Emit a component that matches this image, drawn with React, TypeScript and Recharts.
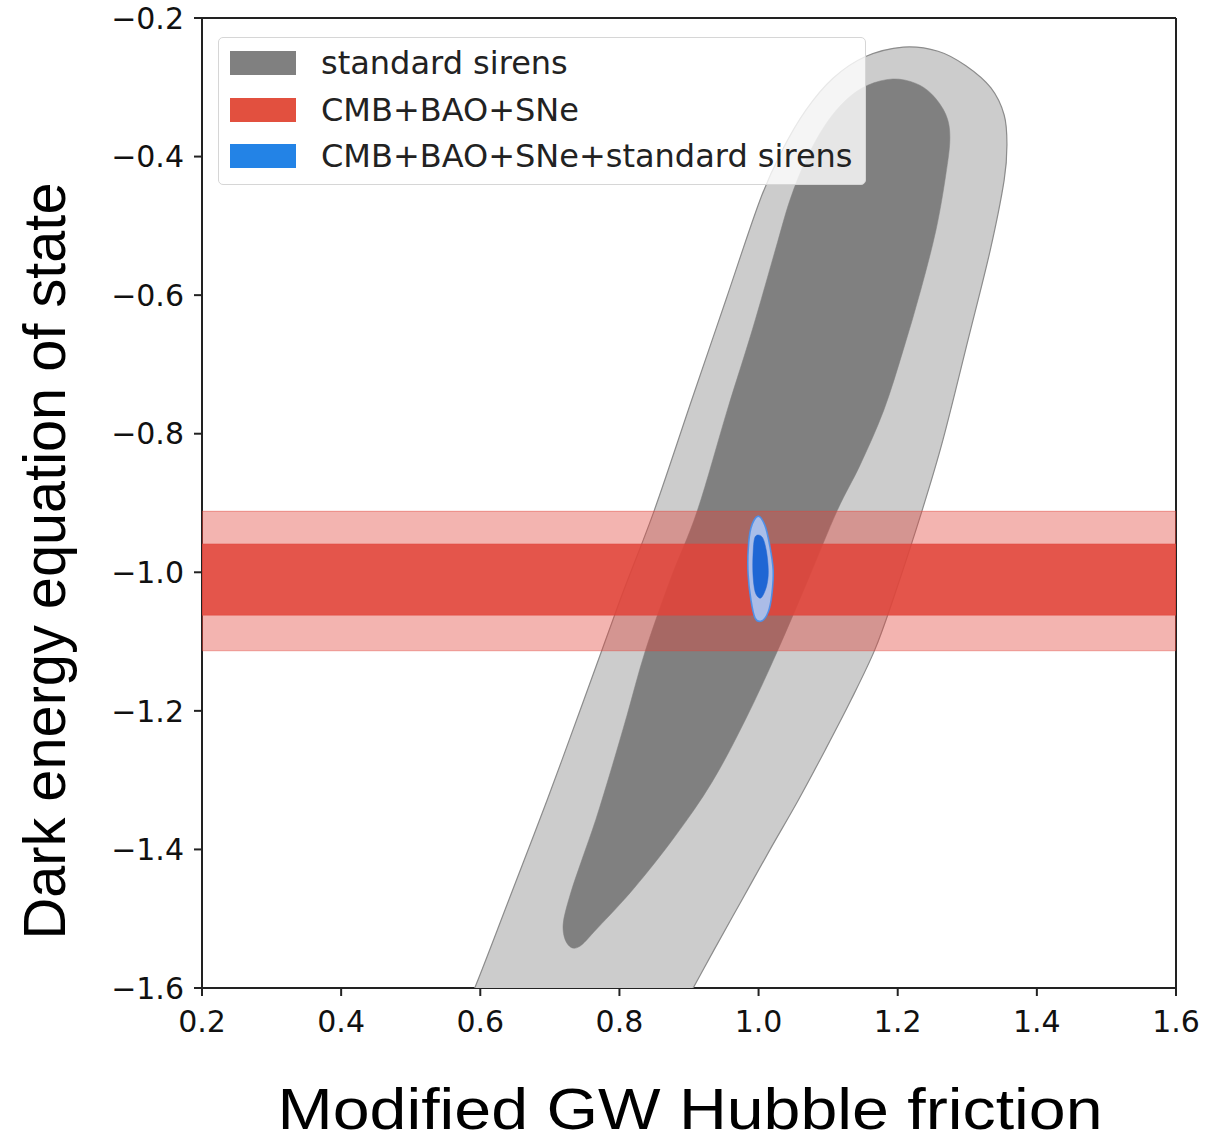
import { ScatterChart, Scatter, XAxis, YAxis, ReferenceLine } from 'recharts'

const xTicks = [0.2, 0.4, 0.6, 0.8, 1.0, 1.2, 1.4, 1.6]
const yTicks = [-1.6, -1.4, -1.2, -1.0, -0.8, -0.6, -0.4, -0.2]

// standard sirens, outer (95%) contour: [friction, w]
const sirensOuter: [number, number][] = [
  [0.564, -1.66], [0.592, -1.6], [0.641, -1.473], [0.696, -1.329], [0.749, -1.184],
  [0.801, -1.04], [0.85, -0.911], [0.904, -0.751], [0.953, -0.607], [1.002, -0.463],
  [1.034, -0.391], [1.068, -0.333], [1.107, -0.287], [1.153, -0.256], [1.208, -0.242],
  [1.258, -0.248], [1.298, -0.269], [1.334, -0.301], [1.353, -0.34], [1.357, -0.383],
  [1.353, -0.434], [1.333, -0.535], [1.301, -0.665], [1.265, -0.809], [1.235, -0.911],
  [1.193, -1.04], [1.167, -1.112], [1.133, -1.184], [1.096, -1.256], [1.057, -1.329],
  [1.016, -1.401], [0.976, -1.473], [0.936, -1.545], [0.906, -1.6], [0.873, -1.66],
]

// standard sirens, inner (68%) contour
const sirensInner: [number, number][] = [
  [1.193, -0.288], [1.225, -0.294], [1.249, -0.31], [1.269, -0.339], [1.275, -0.373],
  [1.269, -0.427], [1.255, -0.506], [1.233, -0.593], [1.208, -0.679], [1.18, -0.766],
  [1.146, -0.845], [1.113, -0.911], [1.071, -1.011], [1.027, -1.114], [0.981, -1.213],
  [0.933, -1.303], [0.88, -1.381], [0.821, -1.456], [0.769, -1.513], [0.741, -1.541],
  [0.725, -1.536], [0.719, -1.509], [0.729, -1.466], [0.746, -1.415], [0.766, -1.357],
  [0.788, -1.285], [0.811, -1.206], [0.837, -1.114], [0.873, -1.011], [0.912, -0.911],
  [0.955, -0.766], [0.991, -0.65], [1.024, -0.535], [1.045, -0.463], [1.068, -0.405],
  [1.096, -0.354], [1.126, -0.318], [1.157, -0.297],
]

// CMB+BAO+SNe bands (w is not constrained along friction)
const cmbOuter: [number, number][] = [[0.2, -1.113], [1.6, -1.113], [1.6, -0.912], [0.2, -0.912]]
const cmbInner: [number, number][] = [[0.2, -1.062], [1.6, -1.062], [1.6, -0.959], [0.2, -0.959]]

// CMB+BAO+SNe+standard sirens
const comboOuter: [number, number][] = [
  [0.999, -0.919], [1.009, -0.932], [1.016, -0.961], [1.021, -0.997], [1.019, -1.033],
  [1.014, -1.057], [1.005, -1.070], [0.995, -1.066], [0.989, -1.040], [0.985, -1.004],
  [0.985, -0.968], [0.989, -0.936],
]
const comboInner: [number, number][] = [
  [0.995, -0.949], [1.005, -0.949], [1.011, -0.968], [1.014, -0.997], [1.012, -1.018],
  [1.006, -1.034], [1.001, -1.037], [0.995, -1.028], [0.992, -1.004], [0.992, -0.975],
]

const legendItems = [
  { label: 'standard sirens', color: '#808080' },
  { label: 'CMB+BAO+SNe', color: '#e2503f' },
  { label: 'CMB+BAO+SNe+standard sirens', color: '#2383e6' },
]

const toPts = (arr: [number, number][]) => arr.map(([x, y]) => ({ x, y }))

// closed Catmull-Rom through the contour points
function smoothPath(pts: { x: number; y: number }[]) {
  const n = pts.length
  let d = `M${pts[0].x},${pts[0].y}`
  for (let i = 0; i < n; i++) {
    const p0 = pts[(i - 1 + n) % n]
    const p1 = pts[i]
    const p2 = pts[(i + 1) % n]
    const p3 = pts[(i + 2) % n]
    const c1x = p1.x + (p2.x - p0.x) / 6
    const c1y = p1.y + (p2.y - p0.y) / 6
    const c2x = p2.x - (p3.x - p1.x) / 6
    const c2y = p2.y - (p3.y - p1.y) / 6
    d += `C${c1x},${c1y} ${c2x},${c2y} ${p2.x},${p2.y}`
  }
  return d + 'Z'
}

function polygon(fill: string, opacity: number, stroke: string, strokeWidth: number, smooth: boolean) {
  return (props: any) => {
    const pts = (props.points || []).filter((p: any) => p.x != null && p.y != null)
    if (!pts.length) return <g />
    const d = smooth
      ? smoothPath(pts)
      : pts.map((p: any, i: number) => `${i ? 'L' : 'M'}${p.x},${p.y}`).join('') + 'Z'
    return (
      <path d={d} fill={fill} fillOpacity={opacity} stroke={stroke} strokeWidth={strokeWidth} strokeOpacity={opacity} />
    )
  }
}

const noDot = () => <g />

const fmtY = (v: number) => (v < 0 ? '\u2212' : '') + Math.abs(v).toFixed(1)

const tickStyle = { fontSize: 30, fill: '#111', fontFamily: 'DejaVu Sans' }

export default function App() {
  return (
    <div style={{ position: 'absolute', left: 0, top: 0, width: 1209, height: 1142, background: '#fff' }}>
      <ScatterChart width={1209} height={1142} margin={{ top: 18, right: 33, bottom: 94, left: 102 }}>
        <XAxis
          type="number"
          dataKey="x"
          domain={[0.2, 1.6]}
          ticks={xTicks}
          allowDataOverflow
          height={60}
          tickSize={8}
          tickMargin={15}
          tick={tickStyle}
          tickFormatter={(v: number) => v.toFixed(1)}
          stroke="#222"
          strokeWidth={2}
        />
        <YAxis
          type="number"
          dataKey="y"
          domain={[-1.6, -0.2]}
          ticks={yTicks}
          allowDataOverflow
          width={100}
          tickSize={8}
          tickMargin={10}
          tick={tickStyle}
          tickFormatter={fmtY}
          stroke="#222"
          strokeWidth={2}
        />
        <Scatter data={toPts(sirensOuter)} shape={noDot} line={polygon('#cccccc', 1, '#8c8c8c', 1.2, true)} lineType="joint" isAnimationActive={false} />
        <Scatter data={toPts(sirensInner)} shape={noDot} line={polygon('#808080', 1, '#808080', 0.5, true)} lineType="joint" isAnimationActive={false} />
        <Scatter data={toPts(cmbOuter)} shape={noDot} line={polygon('#e0443a', 0.4, '#e0443a', 1.2, false)} lineType="joint" isAnimationActive={false} />
        <Scatter data={toPts(cmbInner)} shape={noDot} line={polygon('#e0443a', 0.85, '#e0443a', 0.5, false)} lineType="joint" isAnimationActive={false} />
        <Scatter data={toPts(comboOuter)} shape={noDot} line={polygon('#a9c3f0', 0.95, '#4c8ee8', 1.6, true)} lineType="joint" isAnimationActive={false} />
        <Scatter data={toPts(comboInner)} shape={noDot} line={polygon('#1f66d4', 1, '#1f66d4', 0.5, true)} lineType="joint" isAnimationActive={false} />
        <ReferenceLine y={-0.2} stroke="#222" strokeWidth={2} />
        <ReferenceLine x={1.6} stroke="#222" strokeWidth={2} />
      </ScatterChart>

      <div
        style={{
          position: 'absolute',
          left: 218,
          top: 37,
          width: 646,
          height: 146,
          border: '1px solid #d6d6d6',
          borderRadius: 5,
          background: 'rgba(255,255,255,0.8)',
          fontFamily: 'DejaVu Sans',
          fontSize: 32,
          color: '#222',
        }}
      >
        {legendItems.map((item, i) => (
          <div key={item.label} style={{ position: 'absolute', left: 0, top: 12 + i * 46.5, height: 26, display: 'flex', alignItems: 'center' }}>
            <div style={{ marginLeft: 11, width: 66, height: 24, background: item.color }} />
            <span style={{ marginLeft: 25, whiteSpace: 'nowrap', lineHeight: '26px' }}>{item.label}</span>
          </div>
        ))}
      </div>

      <svg width={1209} height={1142} style={{ position: 'absolute', left: 0, top: 0, pointerEvents: 'none' }}>
        <text
          x={690}
          y={1129}
          textAnchor="middle"
          fontFamily="Liberation Sans"
          fontSize={58}
          textLength={825}
          lengthAdjust="spacingAndGlyphs"
          fill="#000"
        >
          Modified GW Hubble friction
        </text>
        <text
          transform="translate(65,561) rotate(-90)"
          textAnchor="middle"
          fontFamily="Liberation Sans"
          fontSize={60}
          textLength={757}
          lengthAdjust="spacingAndGlyphs"
          fill="#000"
        >
          Dark energy equation of state
        </text>
      </svg>
    </div>
  )
}
